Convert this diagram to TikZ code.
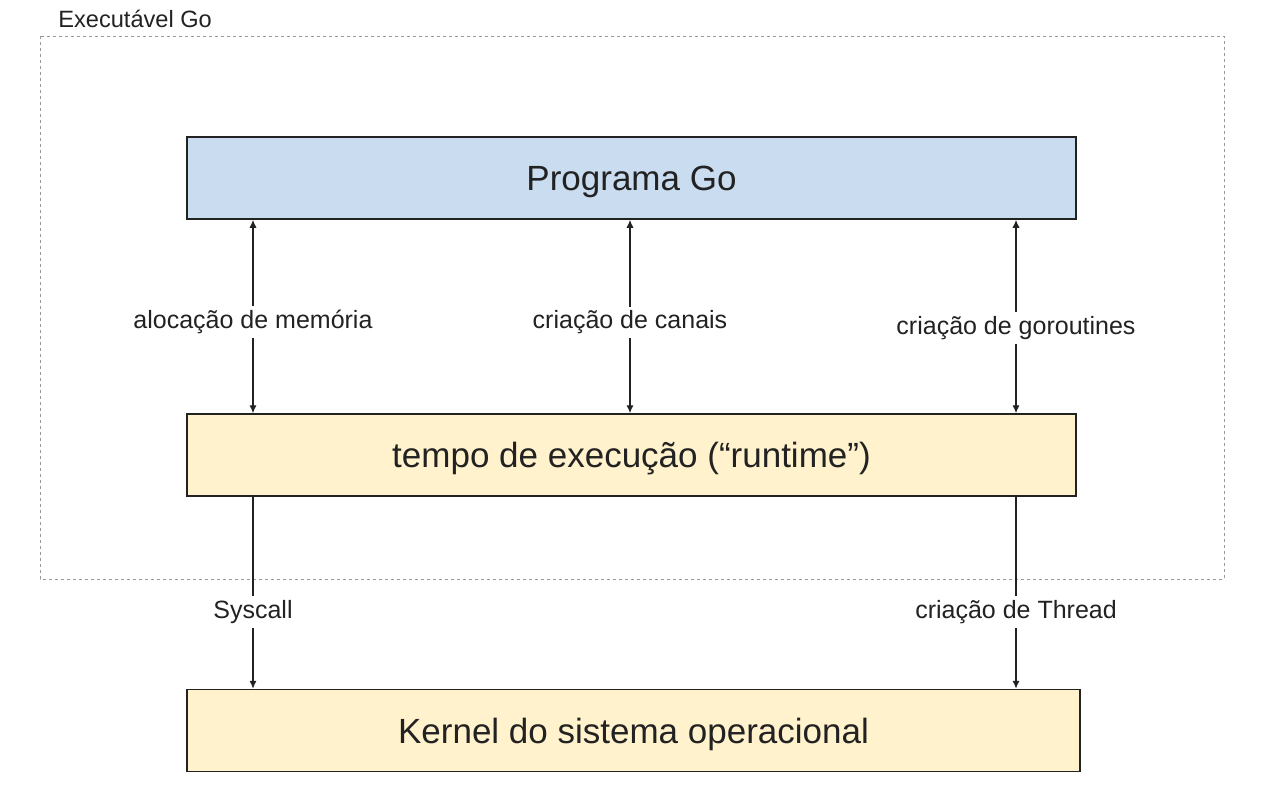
\documentclass[tikz,border=0pt]{standalone}
\usepackage{fontspec}
\setmainfont{Liberation Sans}
\usepackage{tikz}
\usetikzlibrary{arrows.meta,positioning}

\definecolor{progblue}{HTML}{C9DCF0}
\definecolor{rtyellow}{HTML}{FFF2CC}
\definecolor{ink}{HTML}{222222}
\definecolor{framegrey}{HTML}{999999}

\tikzset{
  layer/.style={draw=ink, line width=0.75pt, minimum width=444.5pt, minimum height=41pt,
    inner sep=0pt, text height=12.6pt, text depth=0pt, font=\fontsize{17.5}{21}\selectfont, text=ink},
  conn/.style={draw=ink, line width=0.65pt, -{Latex[length=4pt,width=3.6pt]}},
  both/.style={conn, {Latex[length=4pt,width=3.6pt]}-{Latex[length=4pt,width=3.6pt]}},
  tag/.style={fill=white, inner sep=2pt, font=\fontsize{12.5}{15}\selectfont, text=ink},
  frame/.style={draw=framegrey, line width=0.5pt, dash pattern=on 1.5pt off 1.5pt}
}

\begin{document}
\begin{tikzpicture}[x=0.5pt, y=-0.5pt]
				\useasboundingbox (0,0) rectangle (1265,805);

				% moldura do executavel
				\draw [frame] (40,36) rectangle (1224,579);
				\node (exe) [anchor=west, inner sep=0pt, text=ink, font=\fontsize{11.8}{14}\selectfont] at (58,19) {Executável Go};

				\node (prog) [layer, fill=progblue] at (631.5,178) {Programa Go};
				\node (rt) [layer, fill=rtyellow] at (631.5,455) {tempo de execução (“runtime”)};
				\node (kern) [layer, fill=rtyellow, minimum width=446.5pt] at (633.5,730.5) {Kernel do sistema operacional};

				\coordinate (c1) at (253,0);
				\coordinate (c2) at (630,0);
				\coordinate (c3) at (1016,0);

				\draw [both] (prog.south -| c1) to node [tag, pos=0.53] {alocação de memória} (rt.north -| c1);
				\draw [both] (prog.south -| c2) to node [tag, pos=0.53] {criação de canais} (rt.north -| c2);
				\draw [both] (prog.south -| c3) to node [tag, pos=0.56] {criação de goroutines} (rt.north -| c3);
				\draw [conn] (rt.south -| c1) to node [tag, pos=0.6] {Syscall} (kern.north -| c1);
				\draw [conn] (rt.south -| c3) to node [tag, pos=0.6] {criação de Thread} (kern.north -| c3);
		\end{tikzpicture}
\end{document}
